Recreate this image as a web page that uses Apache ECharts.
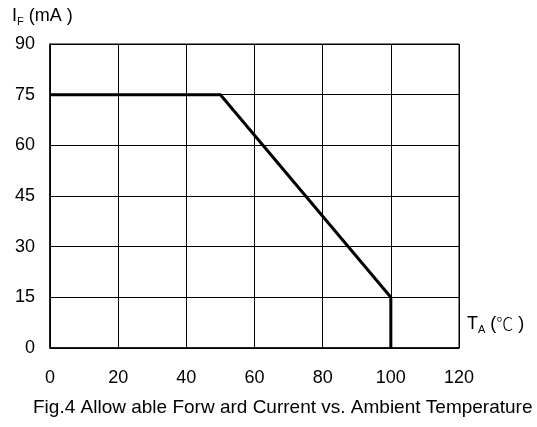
<!DOCTYPE html>
<html>
<head>
<meta charset="utf-8">
<script src="https://cdn.jsdelivr.net/npm/echarts@6/dist/echarts.min.js"></script>
<style>
  html, body { margin: 0; padding: 0; background: #fff; }
  #chart { width: 537px; height: 427px; }
</style>
</head>
<body>
<div id="chart"></div>
<script>
// derating curve: ambient temperature (C) vs allowable forward current (mA)
const temps = [0, 50, 100, 100];
const currents = [75, 75, 15, 0];

const font = '"Liberation Sans", Arial, sans-serif';
const chart = echarts.init(document.getElementById('chart'));

chart.setOption({
  animation: false,
  grid: { left: 50, right: 78, top: 44, bottom: 79, show: true, borderColor: '#000', borderWidth: 1 },
  xAxis: {
    type: 'value',
    min: 0, max: 120, interval: 20,
    axisLine: { show: true, lineStyle: { color: '#000', width: 1.5 } },
    axisTick: { show: false },
    splitLine: { show: true, lineStyle: { color: '#000', width: 1 } },
    axisLabel: { color: '#000', fontSize: 18, fontFamily: font, margin: 21 }
  },
  yAxis: {
    type: 'value',
    min: 0, max: 90, interval: 15,
    axisLine: { show: true, lineStyle: { color: '#000', width: 1.5 } },
    axisTick: { show: false },
    splitLine: { show: true, lineStyle: { color: '#000', width: 1 } },
    axisLabel: { color: '#000', fontSize: 18, fontFamily: font, margin: 15 }
  },
  series: [{
    type: 'line',
    data: temps.map((t, i) => [t, currents[i]]),
    symbol: 'none',
    lineStyle: { color: '#000', width: 3 }
  }],
  graphic: [
    {
      type: 'text', left: 12, top: 7,
      style: {
        text: '{m|I}{s|F}{m| (mA )}',
        fill: '#000',
        rich: {
          m: { fontSize: 18, fontFamily: font, fill: '#000' },
          s: { fontSize: 11, fontFamily: font, fill: '#000', padding: [12, 0, 0, 0] }
        }
      }
    },
    {
      type: 'text', left: 467, top: 315,
      style: {
        text: '{m|T}{s|A}{m| (}{c|℃}{m| )}',
        fill: '#000',
        rich: {
          m: { fontSize: 18, fontFamily: font, fill: '#000' },
          c: { fontSize: 17, fontFamily: '"Noto Sans CJK JP"', fill: '#000', fontWeight: 300 },
          s: { fontSize: 11, fontFamily: font, fill: '#000', padding: [12, 0, 0, 0] }
        }
      }
    },
    {
      type: 'text', left: 33, top: 398,
      style: {
        text: 'Fig.4 Allow able Forw ard Current vs. Ambient Temperature',
        fill: '#000', fontSize: 19, fontFamily: font
      }
    }
  ]
});
</script>
</body>
</html>
